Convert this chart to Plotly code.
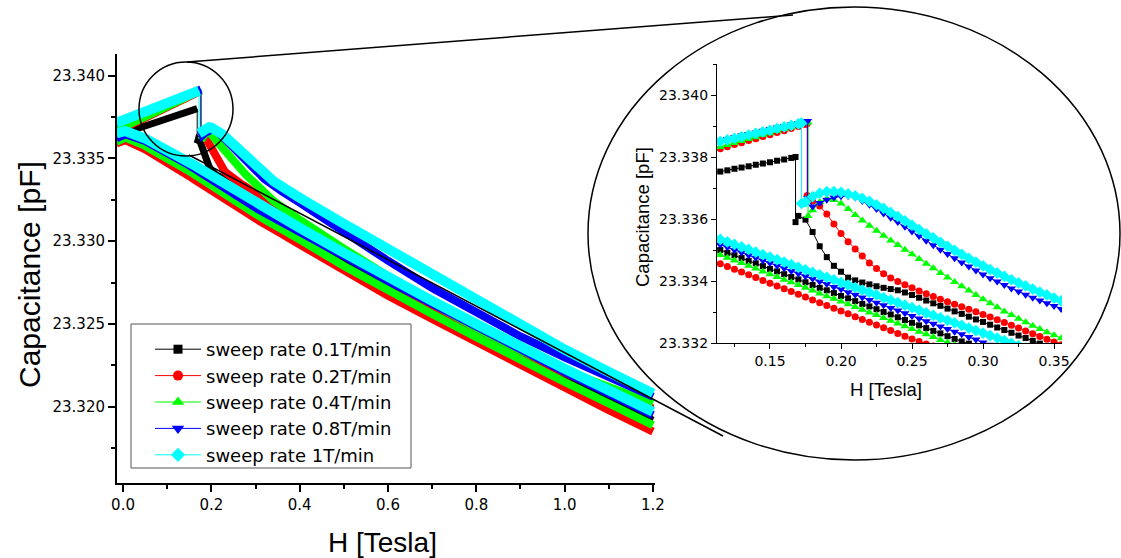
import plotly.graph_objects as go

W, HGT = 1121, 558

# ---------------- data ----------------
H_FINE = [0.110, 0.115, 0.120, 0.125, 0.130, 0.135, 0.140, 0.145, 0.150, 0.155,
          0.160, 0.165, 0.170, 0.175, 0.180, 0.185, 0.190, 0.195, 0.200, 0.205,
          0.210, 0.215, 0.220, 0.225, 0.230, 0.235, 0.240, 0.245, 0.250, 0.255,
          0.260, 0.265, 0.270, 0.275, 0.280, 0.285, 0.290, 0.295, 0.300, 0.305,
          0.310, 0.315, 0.320, 0.325, 0.330, 0.335, 0.340, 0.345, 0.350, 0.355, 0.360]
H_LO_UP = [-0.015, 0.0, 0.05, 0.08]
H_LO_DN = [-0.015, 0.005, 0.05, 0.08]
H_HI = [0.4, 0.5, 0.6, 0.7, 0.8, 0.9, 1.0, 1.1, 1.2]

NAMES = ["sweep rate 0.1T/min", "sweep rate 0.2T/min", "sweep rate 0.4T/min",
         "sweep rate 0.8T/min", "sweep rate 1T/min"]
COLORS = ["#000000", "#ff0000", "#00ff00", "#0000ff", "#00ffff"]
SYMBOLS = ["square", "circle", "triangle-up", "triangle-down", "diamond"]

JUMP_H = [0.168, 0.1762, 0.1768, 0.1765, 0.1722]
JUMP_TOP = [23.33800, 23.33907, 23.33912, 23.33916, 23.33909]
JUMP_BOT = [23.33590, 23.33676, 23.33610, 23.33668, 23.33650]

# ---- 0.1 T/min ----
UP_LO_01 = [23.3363, 23.3365, 23.33695, 23.33723]
UP_FINE_01 = [23.33749, 23.33753, 23.33757, 23.33762, 23.33766, 23.33770, 23.33775, 23.33779,
              23.33783, 23.33788, 23.33792, 23.33797,
              23.33610, 23.33598, 23.33558, 23.33512, 23.33477, 23.33449, 23.33430, 23.33411,
              23.33402, 23.33395, 23.33389, 23.33383, 23.33378, 23.33374, 23.33370, 23.33363,
              23.33355, 23.33346, 23.33337, 23.33328, 23.33320, 23.33311, 23.33302, 23.33294,
              23.33285, 23.33276, 23.33268, 23.33259, 23.33250, 23.33242, 23.33233, 23.33224,
              23.33216, 23.33207, 23.33198, 23.33190, 23.33181, 23.33173, 23.33164]
UP_HI_01 = [23.33100, 23.32925, 23.32755, 23.32595, 23.32445, 23.32310, 23.32190, 23.32080, 23.31980]
DN_LO_01 = [23.3360, 23.3363, 23.3359, 23.33548]
DN_FINE_01 = [23.33509, 23.33500, 23.33491, 23.33483, 23.33474, 23.33465, 23.33457, 23.33448,
              23.33439, 23.33431, 23.33422, 23.33413, 23.33405, 23.33396, 23.33387, 23.33378,
              23.33370, 23.33361, 23.33352, 23.33344, 23.33335, 23.33326, 23.33318, 23.33309,
              23.33300, 23.33292, 23.33283, 23.33274, 23.33265, 23.33257, 23.33248, 23.33239,
              23.33231, 23.33222, 23.33213, 23.33205, 23.33198, 23.33190, 23.33182, 23.33174,
              23.33167, 23.33159, 23.33151, 23.33143, 23.33136, 23.33128, 23.33120, 23.33112,
              23.33105, 23.33097, 23.33089]
DN_HI_01 = [23.3303, 23.3288, 23.3273, 23.3259, 23.3245, 23.3231, 23.3218, 23.3205, 23.3192]

# ---- 0.2 T/min ----
UP_LO_02 = [23.33665, 23.3368, 23.33744, 23.33782]
UP_FINE_02 = [23.33820, 23.33827, 23.33833, 23.33840, 23.33846, 23.33853, 23.33859, 23.33866,
              23.33872, 23.33879, 23.33885, 23.33892, 23.33898, 23.33905,
              23.33658, 23.33642, 23.33616, 23.33584, 23.33553, 23.33527, 23.33503, 23.33481,
              23.33458, 23.33440, 23.33423, 23.33410, 23.33398, 23.33388, 23.33378, 23.33368,
              23.33359, 23.33350, 23.33341, 23.33333, 23.33325, 23.33317, 23.33309, 23.33301,
              23.33292, 23.33284, 23.33275, 23.33266, 23.33257, 23.33248, 23.33239, 23.33230,
              23.33221, 23.33212, 23.33203, 23.33194, 23.33185]
UP_HI_02 = [23.33110, 23.32935, 23.32765, 23.32605, 23.32455, 23.32320, 23.32200, 23.32090, 23.31990]
DN_LO_02 = [23.3359, 23.3361, 23.33555, 23.3351]
DN_FINE_02 = [23.33465, 23.33456, 23.33447, 23.33438, 23.33429, 23.33420, 23.33411, 23.33402,
              23.33393, 23.33384, 23.33375, 23.33366, 23.33357, 23.33348, 23.33339, 23.33330,
              23.33321, 23.33312, 23.33303, 23.33294, 23.33285, 23.33276, 23.33267, 23.33258,
              23.33249, 23.33240, 23.33231, 23.33222, 23.33213, 23.33205, 23.33197, 23.33190,
              23.33182, 23.33174, 23.33166, 23.33159, 23.33151, 23.33143, 23.33136, 23.33128,
              23.33120, 23.33113, 23.33105, 23.33097, 23.33089, 23.33082, 23.33074, 23.33066,
              23.33059, 23.33051, 23.33043]
DN_HI_02 = [23.3298, 23.3282, 23.3267, 23.3253, 23.3239, 23.3225, 23.3212, 23.3198, 23.3185]

# ---- 0.4 T/min ----
UP_LO_04 = [23.3367, 23.33686, 23.3375, 23.33788]
UP_FINE_04 = [23.33826, 23.33832, 23.33839, 23.33845, 23.33852, 23.33858, 23.33864, 23.33871,
              23.33877, 23.33884, 23.33890, 23.33896, 23.33903, 23.33909,
              23.33628, 23.33655, 23.33665, 23.33661, 23.33650, 23.33632, 23.33613, 23.33595,
              23.33578, 23.33562, 23.33546, 23.33531, 23.33516, 23.33501, 23.33486, 23.33471,
              23.33456, 23.33441, 23.33426, 23.33411, 23.33397, 23.33383, 23.33369, 23.33355,
              23.33341, 23.33328, 23.33315, 23.33302, 23.33290, 23.33278, 23.33267, 23.33256,
              23.33245, 23.33235, 23.33225, 23.33215, 23.33205]
UP_HI_04 = [23.33130, 23.32955, 23.32785, 23.32625, 23.32475, 23.32340, 23.32220, 23.32115, 23.32020]
DN_LO_04 = [23.3360, 23.33625, 23.33575, 23.33532]
DN_FINE_04 = [23.33493, 23.33484, 23.33475, 23.33466, 23.33458, 23.33449, 23.33440, 23.33431,
              23.33422, 23.33413, 23.33404, 23.33396, 23.33387, 23.33378, 23.33369, 23.33360,
              23.33351, 23.33343, 23.33334, 23.33325, 23.33316, 23.33307, 23.33298, 23.33290,
              23.33281, 23.33272, 23.33263, 23.33254, 23.33245, 23.33236, 23.33228, 23.33219,
              23.33210, 23.33202, 23.33194, 23.33187, 23.33179, 23.33171, 23.33164, 23.33156,
              23.33148, 23.33140, 23.33133, 23.33125, 23.33117, 23.33110, 23.33102, 23.33094,
              23.33086, 23.33079, 23.33071]
DN_HI_04 = [23.3301, 23.3285, 23.3270, 23.3256, 23.3242, 23.3228, 23.3215, 23.3202, 23.3189]

# ---- 0.8 T/min ----
UP_LO_08 = [23.33712, 23.33728, 23.3378, 23.33811]
UP_FINE_08 = [23.33848, 23.33853, 23.33858, 23.33864, 23.33869, 23.33874, 23.33879, 23.33885,
              23.33890, 23.33895, 23.33900, 23.33905, 23.33910, 23.33914,
              23.33640, 23.33652, 23.33662, 23.33669, 23.33673, 23.33674, 23.33669, 23.33658,
              23.33646, 23.33632, 23.33618, 23.33604, 23.33590, 23.33575, 23.33560, 23.33545,
              23.33530, 23.33515, 23.33501, 23.33487, 23.33473, 23.33460, 23.33447, 23.33434,
              23.33421, 23.33409, 23.33398, 23.33387, 23.33376, 23.33366, 23.33356, 23.33346,
              23.33337, 23.33328, 23.33319, 23.33310, 23.33301]
UP_HI_08 = [23.33232, 23.33055, 23.32882, 23.32717, 23.32565, 23.32425, 23.32298, 23.32178, 23.32062]
DN_LO_08 = [23.3362, 23.33645, 23.33605, 23.33565]
DN_FINE_08 = [23.33526, 23.33517, 23.33509, 23.33500, 23.33492, 23.33483, 23.33475, 23.33466,
              23.33458, 23.33449, 23.33441, 23.33432, 23.33424, 23.33415, 23.33407, 23.33398,
              23.33390, 23.33381, 23.33373, 23.33364, 23.33356, 23.33347, 23.33339, 23.33330,
              23.33322, 23.33313, 23.33305, 23.33296, 23.33287, 23.33279, 23.33270, 23.33262,
              23.33253, 23.33245, 23.33236, 23.33228, 23.33219, 23.33211, 23.33202, 23.33194,
              23.33187, 23.33179, 23.33171, 23.33163, 23.33156, 23.33148, 23.33140, 23.33132,
              23.33125, 23.33117, 23.33109]
DN_HI_08 = [23.3306, 23.3291, 23.3276, 23.3262, 23.3248, 23.3234, 23.3221, 23.3208, 23.3195]

# ---- 1 T/min ----
UP_LO_1 = [23.33715, 23.3373, 23.33782, 23.33813]
UP_FINE_1 = [23.33844, 23.33850, 23.33855, 23.33860, 23.33865, 23.33871, 23.33876, 23.33881,
             23.33886, 23.33892, 23.33897, 23.33902, 23.33907,
             23.33655, 23.33672, 23.33683, 23.33688, 23.33688, 23.33686, 23.33681, 23.33675,
             23.33667, 23.33657, 23.33646, 23.33634, 23.33621, 23.33608, 23.33594, 23.33580,
             23.33566, 23.33552, 23.33539, 23.33525, 23.33512, 23.33499, 23.33486, 23.33473,
             23.33461, 23.33449, 23.33437, 23.33426, 23.33415, 23.33404, 23.33394, 23.33384,
             23.33374, 23.33364, 23.33355, 23.33345, 23.33336, 23.33327]
UP_HI_1 = [23.33262, 23.33105, 23.32950, 23.32795, 23.32642, 23.32492, 23.32346, 23.32210, 23.32080]
DN_LO_1 = [23.3365, 23.33665, 23.3362, 23.3358]
DN_FINE_1 = [23.33542, 23.33534, 23.33526, 23.33518, 23.33510, 23.33502, 23.33493, 23.33485,
             23.33477, 23.33469, 23.33461, 23.33453, 23.33444, 23.33436, 23.33428, 23.33420,
             23.33412, 23.33404, 23.33395, 23.33387, 23.33379, 23.33371, 23.33363, 23.33355,
             23.33346, 23.33338, 23.33330, 23.33322, 23.33314, 23.33306, 23.33297, 23.33289,
             23.33281, 23.33273, 23.33265, 23.33257, 23.33248, 23.33240, 23.33232, 23.33224,
             23.33216, 23.33208, 23.33199, 23.33191, 23.33183, 23.33175, 23.33167, 23.33159,
             23.33150, 23.33142, 23.33134]
DN_HI_1 = [23.3308, 23.3293, 23.3278, 23.3264, 23.3250, 23.3236, 23.3223, 23.3210, 23.3197]

UP_LO = [UP_LO_01, UP_LO_02, UP_LO_04, UP_LO_08, UP_LO_1]
UP_FINE = [UP_FINE_01, UP_FINE_02, UP_FINE_04, UP_FINE_08, UP_FINE_1]
UP_HI = [UP_HI_01, UP_HI_02, UP_HI_04, UP_HI_08, UP_HI_1]
DN_LO = [DN_LO_01, DN_LO_02, DN_LO_04, DN_LO_08, DN_LO_1]
DN_FINE = [DN_FINE_01, DN_FINE_02, DN_FINE_04, DN_FINE_08, DN_FINE_1]
DN_HI = [DN_HI_01, DN_HI_02, DN_HI_04, DN_HI_08, DN_HI_1]

# ---------------- styling ----------------
MAIN_W = [7, 8, 8, 8, 10]
INSET_MS = [6, 7, 8, 8, 9]
LEGEND_MS = [9, 10, 11, 11, 11]


def px(x):
    return x / W


def py(y):
    return 1 - y / HGT


fig = go.Figure()

for i in range(5):
    jh = JUMP_H[i]
    pre_h = H_LO_UP + [h for h in H_FINE if h < jh] + [jh]
    pre_c = UP_LO[i] + [c for h, c in zip(H_FINE, UP_FINE[i]) if h < jh] + [JUMP_TOP[i]]
    post_h = [jh] + [h for h in H_FINE if h > jh] + H_HI
    post_c = [JUMP_BOT[i]] + [c for h, c in zip(H_FINE, UP_FINE[i]) if h > jh] + UP_HI[i]
    dn_h = H_LO_DN + H_FINE + H_HI
    dn_c = DN_LO[i] + DN_FINE[i] + DN_HI[i]
    col = COLORS[i]

    # main plot: dense markers appear as thick bands
    for xs, ys in [(dn_h, dn_c), (pre_h, pre_c), (post_h, post_c)]:
        fig.add_trace(go.Scatter(x=xs, y=ys, mode="lines", xaxis="x", yaxis="y",
                                 line=dict(color=col, width=MAIN_W[i]),
                                 showlegend=False, hoverinfo="skip"))
    fig.add_trace(go.Scatter(x=[jh, jh], y=[JUMP_TOP[i], JUMP_BOT[i]], mode="lines",
                             xaxis="x", yaxis="y", line=dict(color=col, width=1),
                             showlegend=False, hoverinfo="skip"))

for i in range(5):
    jh = JUMP_H[i]
    pre_h = H_LO_UP + [h for h in H_FINE if h < jh]
    pre_c = UP_LO[i] + [c for h, c in zip(H_FINE, UP_FINE[i]) if h < jh]
    post_h = [h for h in H_FINE if h > jh] + H_HI
    post_c = [c for h, c in zip(H_FINE, UP_FINE[i]) if h > jh] + UP_HI[i]
    up_h = pre_h + [jh, jh] + post_h
    up_c = pre_c + [JUMP_TOP[i], JUMP_BOT[i]] + post_c
    dn_h = H_LO_DN + H_FINE + H_HI
    dn_c = DN_LO[i] + DN_FINE[i] + DN_HI[i]
    col = COLORS[i]
    for xs, ys in [(dn_h, dn_c), (up_h, up_c)]:
        fig.add_trace(go.Scatter(x=xs, y=ys, mode="lines+markers", xaxis="x2", yaxis="y2",
                                 line=dict(color=col, width=1),
                                 marker=dict(symbol=SYMBOLS[i], size=INSET_MS[i], color=col,
                                             line=dict(width=0)),
                                 showlegend=False, hoverinfo="skip"))

# legend entries
for i in range(5):
    fig.add_trace(go.Scatter(x=[None], y=[None], mode="lines+markers", name=NAMES[i],
                             xaxis="x", yaxis="y",
                             line=dict(color=COLORS[i], width=1),
                             marker=dict(symbol=SYMBOLS[i], size=LEGEND_MS[i], color=COLORS[i],
                                         line=dict(width=0))))

tickfont_main = dict(family="DejaVu Sans", size=15, color="black")
tickfont_inset = dict(family="DejaVu Sans", size=14, color="black")

fig.update_layout(
    width=W, height=HGT, autosize=False,
    margin=dict(l=0, r=0, t=0, b=0),
    paper_bgcolor="white", plot_bgcolor="rgba(0,0,0,0)",
    font=dict(family="Liberation Sans", color="black"),
    showlegend=True,
    legend=dict(x=px(150), y=py(331), xanchor="left", yanchor="top",
                bgcolor="rgba(0,0,0,0)", borderwidth=0,
                font=dict(family="DejaVu Sans", size=18, color="black"),
                itemwidth=46, tracegroupgap=0),
    xaxis=dict(domain=[px(117), px(655)], range=[-0.0136, 1.2046], anchor="y",
               showline=True, linecolor="black", linewidth=2, mirror=False,
               ticks="outside", ticklen=7, tickwidth=1.5, tickcolor="black",
               tick0=0, dtick=0.2, tickformat=".1f", tickfont=tickfont_main,
               minor=dict(ticks="outside", ticklen=4, tickwidth=1.5, tickcolor="black", dtick=0.1),
               showgrid=False, zeroline=False, automargin=False, fixedrange=True),
    yaxis=dict(domain=[py(483), py(54)], range=[23.3154, 23.3413], anchor="x",
               showline=True, linecolor="black", linewidth=2, mirror=False,
               ticks="outside", ticklen=7, tickwidth=1.5, tickcolor="black",
               tick0=23.32, dtick=0.005, tickformat=".3f", tickfont=tickfont_main,
               minor=dict(ticks="outside", ticklen=4, tickwidth=1.5, tickcolor="black", dtick=0.0025),
               showgrid=False, zeroline=False, automargin=False, fixedrange=True),
    xaxis2=dict(domain=[px(717), px(1062)], range=[0.1127, 0.3556], anchor="y2",
                showline=True, linecolor="black", linewidth=1.3, mirror=False,
                ticks="outside", ticklen=5, tickwidth=1.2, tickcolor="black",
                tick0=0, dtick=0.05, tickformat=".2f", tickfont=tickfont_inset,
                minor=dict(ticks="outside", ticklen=3, tickwidth=1.2, tickcolor="black", dtick=0.025),
                showgrid=False, zeroline=False, automargin=False, fixedrange=True),
    yaxis2=dict(domain=[py(343), py(64)], range=[23.332, 23.341], anchor="x2",
                showline=True, linecolor="black", linewidth=1.3, mirror=False,
                ticks="outside", ticklen=5, tickwidth=1.2, tickcolor="black",
                tick0=23.332, dtick=0.002, tickformat=".3f", tickfont=tickfont_inset,
                minor=dict(ticks="outside", ticklen=3, tickwidth=1.2, tickcolor="black", dtick=0.001),
                showgrid=False, zeroline=False, automargin=False, fixedrange=True),
    annotations=[
        dict(text="Capacitance [pF]", x=px(30), y=py(275), xref="paper", yref="paper",
             textangle=-90, showarrow=False, xanchor="center", yanchor="middle",
             font=dict(family="Liberation Sans", size=30, color="black")),
        dict(text="H [Tesla]", x=px(382), y=py(542), xref="paper", yref="paper",
             showarrow=False, xanchor="center", yanchor="middle",
             font=dict(family="Liberation Sans", size=28, color="black")),
        dict(text="Capacitance [pF]", x=px(643), y=py(217), xref="paper", yref="paper",
             textangle=-90, showarrow=False, xanchor="center", yanchor="middle",
             font=dict(family="Liberation Sans", size=18.5, color="black")),
        dict(text="H [Tesla]", x=px(886), y=py(389), xref="paper", yref="paper",
             showarrow=False, xanchor="center", yanchor="middle",
             font=dict(family="Liberation Sans", size=18.5, color="black")),
    ],
    shapes=[
        dict(type="rect", xref="paper", yref="paper", x0=px(131), x1=px(411),
             y0=py(468), y1=py(324), line=dict(color="#555555", width=1),
             fillcolor="white", layer="below"),
        dict(type="circle", xref="paper", yref="paper", x0=px(139), x1=px(233),
             y0=py(156), y1=py(62), line=dict(color="black", width=1.5), layer="above"),
        dict(type="circle", xref="paper", yref="paper", x0=px(588), x1=px(1120),
             y0=py(460), y1=py(7), line=dict(color="black", width=1.5), layer="above"),
        dict(type="line", xref="paper", yref="paper", x0=px(187), y0=py(62),
             x1=px(793), y1=py(15), line=dict(color="black", width=1.5), layer="above"),
        dict(type="line", xref="paper", yref="paper", x0=px(189), y0=py(155),
             x1=px(723), y1=py(436), line=dict(color="black", width=1.5), layer="above"),
    ],
)

fig.write_html("out.html")
